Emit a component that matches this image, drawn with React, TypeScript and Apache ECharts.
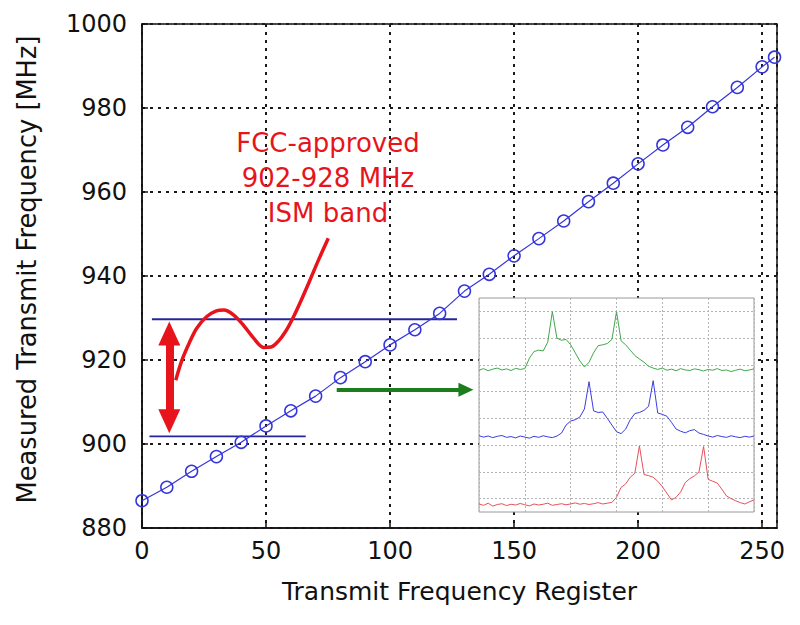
import React, { useEffect, useRef } from "react";
import * as echarts from "echarts";

// Main measurement: transmit frequency register vs measured frequency (MHz)
const registers = [0, 10, 20, 30, 40, 50, 60, 70, 80, 90, 100, 110, 120, 130, 140, 150, 160, 170, 180, 190, 200, 210, 220, 230, 240, 250, 255];
const measuredMHz = [886.5, 889.7, 893.5, 897.0, 900.4, 904.3, 907.9, 911.4, 915.8, 919.6, 923.6, 927.2, 931.1, 936.4, 940.4, 944.8, 948.9, 953.1, 957.7, 962.1, 966.7, 971.2, 975.4, 980.3, 984.9, 989.8, 992.1];

const xTickValues = [0, 50, 100, 150, 200, 250];
const yTickValues = [880, 900, 920, 940, 960, 980, 1000];

// ISM band markers (register, MHz)
const upperBandLine = [[4, 929.7], [127, 929.7]];
const lowerBandLine = [[3, 901.8], [66, 901.8]];
const bandArrow = [[11, 905.4], [11, 926.3]];
const callout = [
  [13.6, 915.2], [16, 919.8], [19, 924.0], [22, 927.5], [26, 930.3], [30, 931.7], [33, 931.9],
  [37, 930.7], [41, 928.2], [45, 925.2], [49, 923.0], [52, 923.1], [55, 924.5], [58, 926.9],
  [61, 930.2], [64, 934.0], [67.7, 939.0], [71, 943.6], [75.1, 949.0],
];
const insetArrow = [[78.5, 912.9], [130.6, 912.9]];
const annotationLines = ["FCC-approved", "902-928 MHz", "ISM band"];

// Inset spectra (sampled every 0.1 division, 6 divisions wide)
const greenSpectrum = [
  5.30, 5.36, 5.28, 5.34, 5.38, 5.31, 5.35, 5.29, 5.37, 5.33,
  5.36, 5.75, 6.00, 6.05, 6.02, 6.35, 7.49, 6.50, 6.42, 6.45,
  6.25, 5.95, 5.65, 5.42, 5.60, 5.95, 6.22, 6.25, 6.30, 6.45,
  7.49, 6.40, 6.25, 6.05, 5.85, 5.72, 5.60, 5.45, 5.38, 5.33,
  5.38, 5.30, 5.34, 5.28, 5.36, 5.31, 5.29, 5.35, 5.32, 5.27,
  5.33, 5.30, 5.36, 5.29, 5.31, 5.25, 5.30, 5.34, 5.28, 5.31, 5.35,
];
const blueSpectrum = [
  2.85, 2.80, 2.84, 2.78, 2.83, 2.86, 2.79, 2.82, 2.77, 2.84,
  2.80, 2.76, 2.83, 2.79, 2.85, 2.81, 2.78, 2.84, 2.95, 3.25,
  3.40, 3.45, 3.55, 3.85, 4.87, 3.78, 3.72, 3.74, 3.50, 3.25,
  3.00, 2.93, 3.10, 3.45, 3.68, 3.72, 3.80, 3.95, 4.91, 3.70,
  3.65, 3.58, 3.35, 3.10, 3.02, 2.96, 3.04, 3.08, 2.95, 2.90,
  2.84, 2.80, 2.86, 2.82, 2.79, 2.85, 2.81, 2.78, 2.83, 2.80, 2.84,
];
const redSpectrum = [
  0.30, 0.25, 0.33, 0.22, 0.28, 0.31, 0.24, 0.29, 0.26, 0.32,
  0.27, 0.23, 0.30, 0.26, 0.29, 0.33, 0.25, 0.28, 0.31, 0.27,
  0.30, 0.34, 0.29, 0.32, 0.28, 0.31, 0.35, 0.30, 0.33, 0.36,
  0.55, 0.92, 1.05, 1.30, 1.45, 2.47, 1.40, 1.36, 1.30, 1.15,
  0.95, 0.70, 0.45, 0.55, 0.75, 1.10, 1.25, 1.35, 1.50, 2.45,
  1.22, 1.15, 1.08, 0.85, 0.60, 0.50, 0.42, 0.35, 0.30, 0.38, 0.45,
];

const FONT = "DejaVu Sans";
const BLUE = "#3535dc";
const RED = "#e8141c";
const NAVY = "#26269c";
const GREEN = "#1c7d1c";

export default function App() {
  const ref = useRef<HTMLDivElement>(null);

  useEffect(() => {
    if (!ref.current) return;
    const chart = echarts.init(ref.current, null, { renderer: "svg" });

    const toPairs = (arr: number[]) => arr.map((v, i) => [i / 10, v]);
    const dotted = { color: "#1a1a1a", width: 2, type: [3, 5] as number[] };

    chart.setOption({
      animation: false,
      backgroundColor: "#fff",
      grid: [
        { left: 142, top: 24, width: 635, height: 504, show: true, borderColor: "#111", borderWidth: 1.5, backgroundColor: "transparent", z: 0 },
        { left: 479, top: 298, width: 275, height: 214, show: true, borderColor: "#9a9a9a", borderWidth: 1, backgroundColor: "#fff", z: 5 },
      ],
      xAxis: [
        {
          type: "value", gridIndex: 0, min: 0, max: 256, interval: 50,
          axisLine: { lineStyle: { color: "#111", width: 1.5 } },
          axisTick: { inside: true, length: 6, lineStyle: { color: "#111", width: 1.5 } },
          axisLabel: {
            fontFamily: FONT, fontSize: 24, color: "#111", margin: 11, showMaxLabel: false,
            formatter: (v: number) => (xTickValues.includes(v) ? String(v) : ""),
          },
          splitLine: { lineStyle: dotted },
          name: "Transmit Frequency Register", nameLocation: "middle", nameGap: 51,
          nameTextStyle: { fontFamily: FONT, fontSize: 25, color: "#111" },
        },
        {
          type: "value", gridIndex: 1, min: 0, max: 6, interval: 1, z: 6,
          axisLine: { show: false }, axisTick: { show: false }, axisLabel: { show: false },
          splitLine: { lineStyle: { color: "#b5b5b5", width: 1, type: [2, 2] } },
        },
      ],
      yAxis: [
        {
          type: "value", gridIndex: 0, min: 880, max: 1000, interval: 20,
          axisLine: { lineStyle: { color: "#111", width: 1.5 } },
          axisTick: { inside: true, length: 6, lineStyle: { color: "#111", width: 1.5 } },
          axisLabel: {
            fontFamily: FONT, fontSize: 24, color: "#111", margin: 15,
            formatter: (v: number) => (yTickValues.includes(v) ? String(v) : ""),
          },
          splitLine: { lineStyle: dotted },
          name: "Measured Transmit Frequency [MHz]", nameLocation: "middle", nameGap: 102, nameRotate: 90,
          nameTextStyle: { fontFamily: FONT, fontSize: 25.7, color: "#111", padding: [0, 0, 0, 13] },
        },
        {
          type: "value", gridIndex: 1, min: 0, max: 8, interval: 1, z: 6,
          axisLine: { show: false }, axisTick: { show: false }, axisLabel: { show: false },
          splitLine: { show: false },
          minorTick: { show: false, splitNumber: 2 },
          minorSplitLine: { show: true, lineStyle: { color: "#b5b5b5", width: 1, type: [2, 2] } },
        },
      ],
      graphic: [
        {
          type: "text", x: 328, y: 178, z: 10,
          style: {
            text: annotationLines.join("\n"), fill: RED, fontFamily: FONT, fontSize: 26,
            lineHeight: 35, align: "center", verticalAlign: "middle",
          },
        },
      ],
      series: [
        {
          type: "line", xAxisIndex: 0, yAxisIndex: 0, z: 3,
          data: upperBandLine, symbol: "none", lineStyle: { color: NAVY, width: 1.8 },
        },
        {
          type: "line", xAxisIndex: 0, yAxisIndex: 0, z: 3,
          data: lowerBandLine, symbol: "none", lineStyle: { color: NAVY, width: 1.8 },
        },
        {
          type: "line", xAxisIndex: 0, yAxisIndex: 0, z: 4,
          data: callout, smooth: 0.3, symbol: "none", lineStyle: { color: RED, width: 3.5 },
          markLine: {
            silent: true, symbol: ["triangle", "triangle"], symbolSize: [22, 24],
            lineStyle: { color: RED, width: 8, type: "solid" }, label: { show: false },
            data: [[{ coord: bandArrow[0] }, { coord: bandArrow[1] }]],
          },
        },
        {
          type: "line", xAxisIndex: 0, yAxisIndex: 0, z: 4,
          data: registers.map((r, i) => [r, measuredMHz[i]]),
          symbol: "circle", symbolSize: 12, showAllSymbol: true,
          lineStyle: { color: BLUE, width: 1.2 },
          itemStyle: { color: "rgba(255,255,255,0)", borderColor: BLUE, borderWidth: 1.5 },
          markLine: {
            silent: true, symbol: ["none", "triangle"], symbolSize: [14, 15],
            lineStyle: { color: GREEN, width: 4, type: "solid" }, label: { show: false },
            data: [[{ coord: insetArrow[0] }, { coord: insetArrow[1] }]],
          },
        },
        {
          type: "line", xAxisIndex: 1, yAxisIndex: 1, z: 7,
          data: toPairs(greenSpectrum), symbol: "none", lineStyle: { color: "#3fa84a", width: 1 },
        },
        {
          type: "line", xAxisIndex: 1, yAxisIndex: 1, z: 7,
          data: toPairs(blueSpectrum), symbol: "none", lineStyle: { color: "#3c3ce0", width: 1 },
        },
        {
          type: "line", xAxisIndex: 1, yAxisIndex: 1, z: 7,
          data: toPairs(redSpectrum), symbol: "none", lineStyle: { color: "#e8505a", width: 1 },
        },
      ],
    });

    return () => chart.dispose();
  }, []);

  return (
    <div
      ref={ref}
      style={{ position: "fixed", left: 0, top: 0, width: 800, height: 625, background: "#fff" }}
    />
  );
}
